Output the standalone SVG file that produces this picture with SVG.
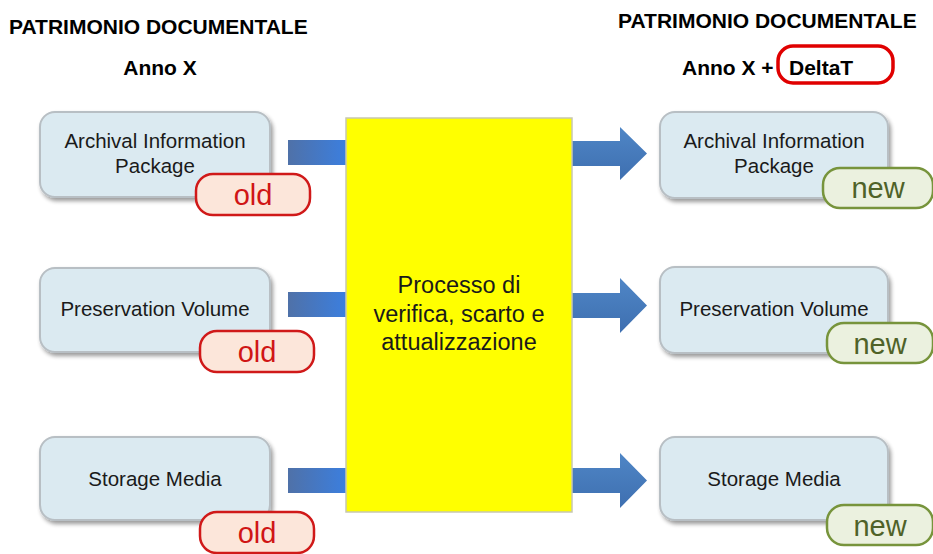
<svg xmlns="http://www.w3.org/2000/svg" width="933" height="554" viewBox="0 0 933 554">
<defs>
<filter id="sh" x="-10%" y="-10%" width="130%" height="140%">
<feGaussianBlur in="SourceAlpha" stdDeviation="2"/>
<feOffset dx="2" dy="3"/>
<feComponentTransfer><feFuncA type="linear" slope="0.4"/></feComponentTransfer>
<feMerge><feMergeNode/><feMergeNode in="SourceGraphic"/></feMerge>
</filter>
<linearGradient id="gl" x1="0" y1="0" x2="1" y2="0">
<stop offset="0" stop-color="#4f71a8"/>
<stop offset="1" stop-color="#3b7fe0"/>
</linearGradient>
<linearGradient id="gr" x1="0" y1="0" x2="0" y2="1">
<stop offset="0" stop-color="#4f86c6"/>
<stop offset="1" stop-color="#3e6fb0"/>
</linearGradient>
</defs>
<style>
text{font-family:"Liberation Sans",Arial,sans-serif;}
.title{font-size:21px;font-weight:bold;fill:#000;}
.box{fill:#dbeaf1;stroke:#b8bfc4;stroke-width:2;filter:url(#sh);}
.bt{font-size:20.5px;fill:#1a1a1a;text-anchor:middle;}
.old{fill:#fce6da;stroke:#d01919;stroke-width:2.5;}
.oldt{font-size:29px;fill:#d01515;text-anchor:middle;}
.new{fill:#ebf1df;stroke:#77943c;stroke-width:2.5;}
.newt{font-size:29px;fill:#4f6228;text-anchor:middle;}
.proc{fill:#ffff00;stroke:#c8c8b0;stroke-width:1.5;}
.pt{font-size:23.5px;fill:#1a1a1a;text-anchor:middle;}
.la{fill:url(#gl);}
.ra{fill:url(#gr);}
</style>
<rect width="933" height="554" fill="#ffffff"/>

<g id="titles">
<text class="title" x="9" y="34">PATRIMONIO DOCUMENTALE</text>
<text class="title" x="160" y="75" text-anchor="middle">Anno X</text>
<text class="title" x="618" y="28">PATRIMONIO DOCUMENTALE</text>
<text class="title" x="682" y="75">Anno X +</text>
<rect x="778" y="46" width="115" height="37" rx="15" fill="#ffffff" stroke="#e00000" stroke-width="3.5"/>
<text class="title" x="789" y="75">DeltaT</text>
</g>

<g id="connectors">
<rect class="la" x="288" y="140" width="60" height="25"/>
<rect class="la" x="288" y="292" width="60" height="25"/>
<rect class="la" x="288" y="468" width="60" height="25"/>
<polygon class="ra" points="572,141 620,141 620,127 647,153.5 620,180 620,166 572,166"/>
<polygon class="ra" points="572,293 620,293 620,278 647,305.5 620,333 620,318 572,318"/>
<polygon class="ra" points="572,468 620,468 620,453 647,480.5 620,508 620,493 572,493"/>
</g>

<g id="process">
<rect class="proc" x="346" y="118" width="226" height="394"/>
<text class="pt" x="459" y="293">Processo  di</text>
<text class="pt" x="459" y="322">verifica, scarto e</text>
<text class="pt" x="459" y="350">attualizzazione</text>
</g>

<g id="aip-old">
<rect class="box" x="40" y="112" width="230" height="85" rx="15"/>
<text class="bt" x="155" y="148">Archival Information</text>
<text class="bt" x="155" y="173">Package</text>
<rect class="old" x="196" y="174" width="114" height="41" rx="17"/>
<text class="oldt" x="253" y="205">old</text>
</g>

<g id="pv-old">
<rect class="box" x="40" y="268" width="230" height="84" rx="15"/>
<text class="bt" x="155" y="316">Preservation Volume</text>
<rect class="old" x="200" y="331" width="114" height="41" rx="17"/>
<text class="oldt" x="257" y="362">old</text>
</g>

<g id="sm-old">
<rect class="box" x="40" y="437" width="230" height="83" rx="15"/>
<text class="bt" x="155" y="486">Storage Media</text>
<rect class="old" x="200" y="512" width="114" height="41" rx="17"/>
<text class="oldt" x="257" y="543">old</text>
</g>

<g id="aip-new">
<rect class="box" x="660" y="112" width="228" height="86" rx="15"/>
<text class="bt" x="774" y="148">Archival Information</text>
<text class="bt" x="774" y="173">Package</text>
<rect class="new" x="823" y="168" width="110" height="40" rx="17"/>
<text class="newt" x="878" y="198">new</text>
</g>

<g id="pv-new">
<rect class="box" x="660" y="267" width="228" height="86" rx="15"/>
<text class="bt" x="774" y="316">Preservation Volume</text>
<rect class="new" x="827" y="323" width="106" height="40" rx="17"/>
<text class="newt" x="880" y="354">new</text>
</g>

<g id="sm-new">
<rect class="box" x="660" y="437" width="228" height="83" rx="15"/>
<text class="bt" x="774" y="486">Storage Media</text>
<rect class="new" x="827" y="505" width="106" height="40" rx="17"/>
<text class="newt" x="880" y="536">new</text>
</g>
</svg>
